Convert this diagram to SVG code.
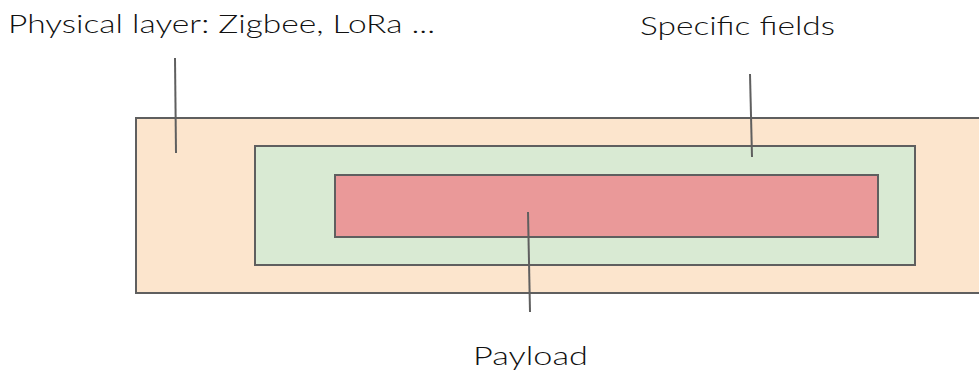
<svg xmlns="http://www.w3.org/2000/svg" width="979" height="375" viewBox="0 0 979 375">
<style>
.box{stroke:#5f5f5f;stroke-width:2}
.lbl{font-family:"Lato","Liberation Sans",sans-serif;font-size:26px;font-weight:300;fill:#111}
.ln{stroke:#5f5f5f;stroke-width:2;fill:none}
</style>
<rect width="979" height="375" fill="#fff"/>
<g id="physical">
<rect class="box" x="136" y="118" width="860" height="175" fill="#fce5cd"/>
</g>
<g id="specific">
<rect class="box" x="255" y="146" width="660" height="119" fill="#d9ead3"/>
</g>
<g id="payload">
<rect class="box" x="335" y="175" width="543" height="62" fill="#ea9999"/>
</g>
<g id="connectors">
<line class="ln" x1="175" y1="58" x2="176" y2="153"/>
<line class="ln" x1="750" y1="74" x2="752" y2="157"/>
<line class="ln" x1="528" y1="212" x2="530" y2="312"/>
</g>
<g id="labels">
<text class="lbl" x="8" y="33" textLength="427" lengthAdjust="spacingAndGlyphs">Physical layer: Zigbee, LoRa ...</text>
<text class="lbl" x="640" y="35" textLength="195" lengthAdjust="spacingAndGlyphs">Specific fields</text>
<text class="lbl" x="473" y="365" textLength="115" lengthAdjust="spacingAndGlyphs">Payload</text>
</g>
</svg>
